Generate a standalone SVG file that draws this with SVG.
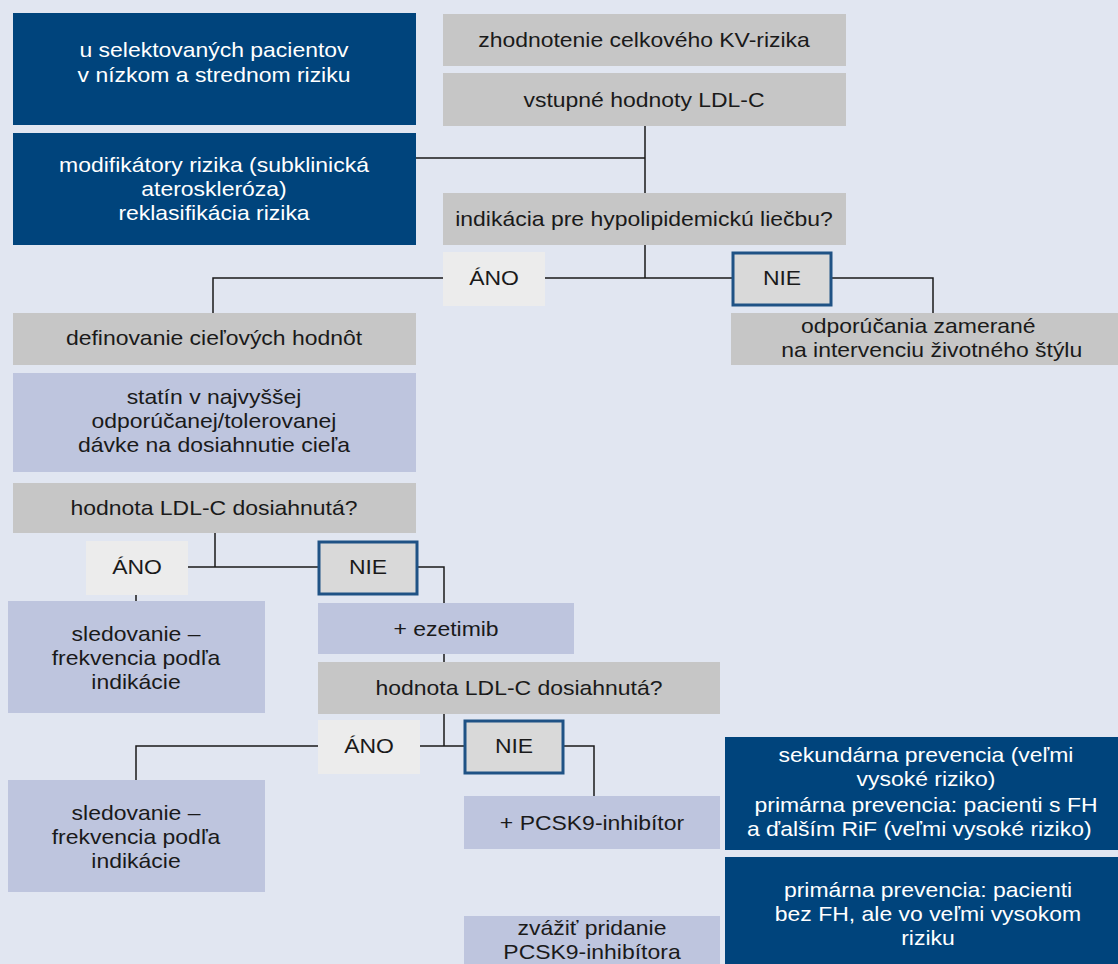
<svg xmlns="http://www.w3.org/2000/svg" width="1118" height="964" viewBox="0 0 1118 964">
<style>
.dark{fill:#00447c}
.grey{fill:#c6c6c6}
.lb{fill:#bec5de}
.ano{fill:#ececec}
.nie{fill:#d9d9d9;stroke:#1f5285;stroke-width:3}
text{font-family:"Liberation Sans",Arial,sans-serif;font-size:20.5px;text-anchor:middle;fill:#1a1a1a}
.w text,text.w{fill:#ffffff}
.c{fill:none;stroke:#1a1a1a;stroke-width:1.5}
</style>
<rect width="1118" height="964" fill="#e1e6f1"/>
<g id="connectors">
<path class="c" d="M416 158H645M645 126V193M645 245V278M213 313V278H443M545 278H732M832 278H933V313"/>
<path class="c" d="M215 533V567M188 567H318M418 567H444V603M136 595V601M444 654V662"/>
<path class="c" d="M444 714V746M136 780V746H318M420 746H464M564 746H594V796"/>
</g>
<g id="n1"><rect class="dark" x="13" y="13" width="403" height="112"/><g class="w" transform="translate(214 0) scale(1.12 1)"><text x="0" y="57">u selektovaných pacientov</text><text x="0" y="82">v nízkom a strednom riziku</text></g></g>
<g id="n2"><rect class="dark" x="13" y="133" width="403" height="112"/><g class="w" transform="translate(214 0) scale(1.12 1)"><text x="0" y="172">modifikátory rizika (subklinická</text><text x="0" y="196">ateroskleróza)</text><text x="0" y="220">reklasifikácia rizika</text></g></g>
<g id="n3"><rect class="grey" x="443" y="14" width="403" height="52"/><g transform="translate(644 0) scale(1.12 1)"><text x="0" y="47">zhodnotenie celkového KV-rizika</text></g></g>
<g id="n4"><rect class="grey" x="443" y="73" width="403" height="53"/><g transform="translate(644 0) scale(1.12 1)"><text x="0" y="107">vstupné hodnoty LDL-C</text></g></g>
<g id="n5"><rect class="grey" x="443" y="193" width="403" height="52"/><g transform="translate(644 0) scale(1.12 1)"><text x="0" y="226">indikácia pre hypolipidemickú liečbu?</text></g></g>
<g id="n6"><rect class="ano" x="443" y="252" width="102" height="54"/><g transform="translate(494 0) scale(1.12 1)"><text x="0" y="285">ÁNO</text></g></g>
<g id="n7"><rect class="nie" x="733" y="253" width="98" height="52"/><g transform="translate(782 0) scale(1.12 1)"><text x="0" y="285">NIE</text></g></g>
<g id="n8"><rect class="grey" x="13" y="313" width="403" height="52"/><g transform="translate(214 0) scale(1.12 1)"><text x="0" y="345">definovanie cieľových hodnôt</text></g></g>
<g id="n9"><rect class="grey" x="731" y="313" width="387" height="52"/><g transform="translate(925 0) scale(1.12 1)"><text x="-6" y="333">odporúčania zamerané</text><text x="6" y="357">na intervenciu životného štýlu</text></g></g>
<g id="n10"><rect class="lb" x="13" y="373" width="403" height="99"/><g transform="translate(214 0) scale(1.12 1)"><text x="0" y="404">statín v najvyššej</text><text x="0" y="428">odporúčanej/tolerovanej</text><text x="0" y="452">dávke na dosiahnutie cieľa</text></g></g>
<g id="n11"><rect class="grey" x="13" y="483" width="403" height="50"/><g transform="translate(214 0) scale(1.12 1)"><text x="0" y="515">hodnota LDL-C dosiahnutá?</text></g></g>
<g id="n12"><rect class="ano" x="86" y="541" width="102" height="54"/><g transform="translate(137 0) scale(1.12 1)"><text x="0" y="574">ÁNO</text></g></g>
<g id="n13"><rect class="nie" x="319" y="542" width="98" height="52"/><g transform="translate(368 0) scale(1.12 1)"><text x="0" y="574">NIE</text></g></g>
<g id="n14"><rect class="lb" x="8" y="601" width="257" height="112"/><g transform="translate(136 0) scale(1.12 1)"><text x="0" y="641">sledovanie –</text><text x="0" y="665">frekvencia podľa</text><text x="0" y="689">indikácie</text></g></g>
<g id="n15"><rect class="lb" x="318" y="603" width="256" height="51"/><g transform="translate(446 0) scale(1.12 1)"><text x="0" y="636">+ ezetimib</text></g></g>
<g id="n16"><rect class="grey" x="318" y="662" width="402" height="52"/><g transform="translate(519 0) scale(1.12 1)"><text x="0" y="695">hodnota LDL-C dosiahnutá?</text></g></g>
<g id="n17"><rect class="ano" x="318" y="720" width="102" height="54"/><g transform="translate(369 0) scale(1.12 1)"><text x="0" y="753">ÁNO</text></g></g>
<g id="n18"><rect class="nie" x="465" y="721" width="98" height="52"/><g transform="translate(514 0) scale(1.12 1)"><text x="0" y="753">NIE</text></g></g>
<g id="n19"><rect class="lb" x="8" y="780" width="257" height="112"/><g transform="translate(136 0) scale(1.12 1)"><text x="0" y="820">sledovanie –</text><text x="0" y="844">frekvencia podľa</text><text x="0" y="868">indikácie</text></g></g>
<g id="n20"><rect class="lb" x="464" y="796" width="256" height="53"/><g transform="translate(592 0) scale(1.12 1)"><text x="0" y="830">+ PCSK9-inhibítor</text></g></g>
<g id="n21"><rect class="dark" x="725" y="737" width="393" height="113"/><g class="w" transform="translate(926 0) scale(1.12 1)"><text x="0" y="762">sekundárna prevencia (veľmi</text><text x="0" y="786">vysoké riziko)</text><text x="0" y="812">primárna prevencia: pacienti s FH</text><text x="-6" y="836">a ďalším RiF (veľmi vysoké riziko)</text></g></g>
<g id="n22"><rect class="dark" x="725" y="857" width="393" height="107"/><g class="w" transform="translate(928 0) scale(1.12 1)"><text x="0" y="897">primárna prevencia: pacienti</text><text x="0" y="921">bez FH, ale vo veľmi vysokom</text><text x="0" y="945">riziku</text></g></g>
<g id="n23"><rect class="lb" x="464" y="916" width="256" height="48"/><g transform="translate(592 0) scale(1.12 1)"><text x="0" y="935">zvážiť pridanie</text><text x="0" y="959">PCSK9-inhibítora</text></g></g>
</svg>
